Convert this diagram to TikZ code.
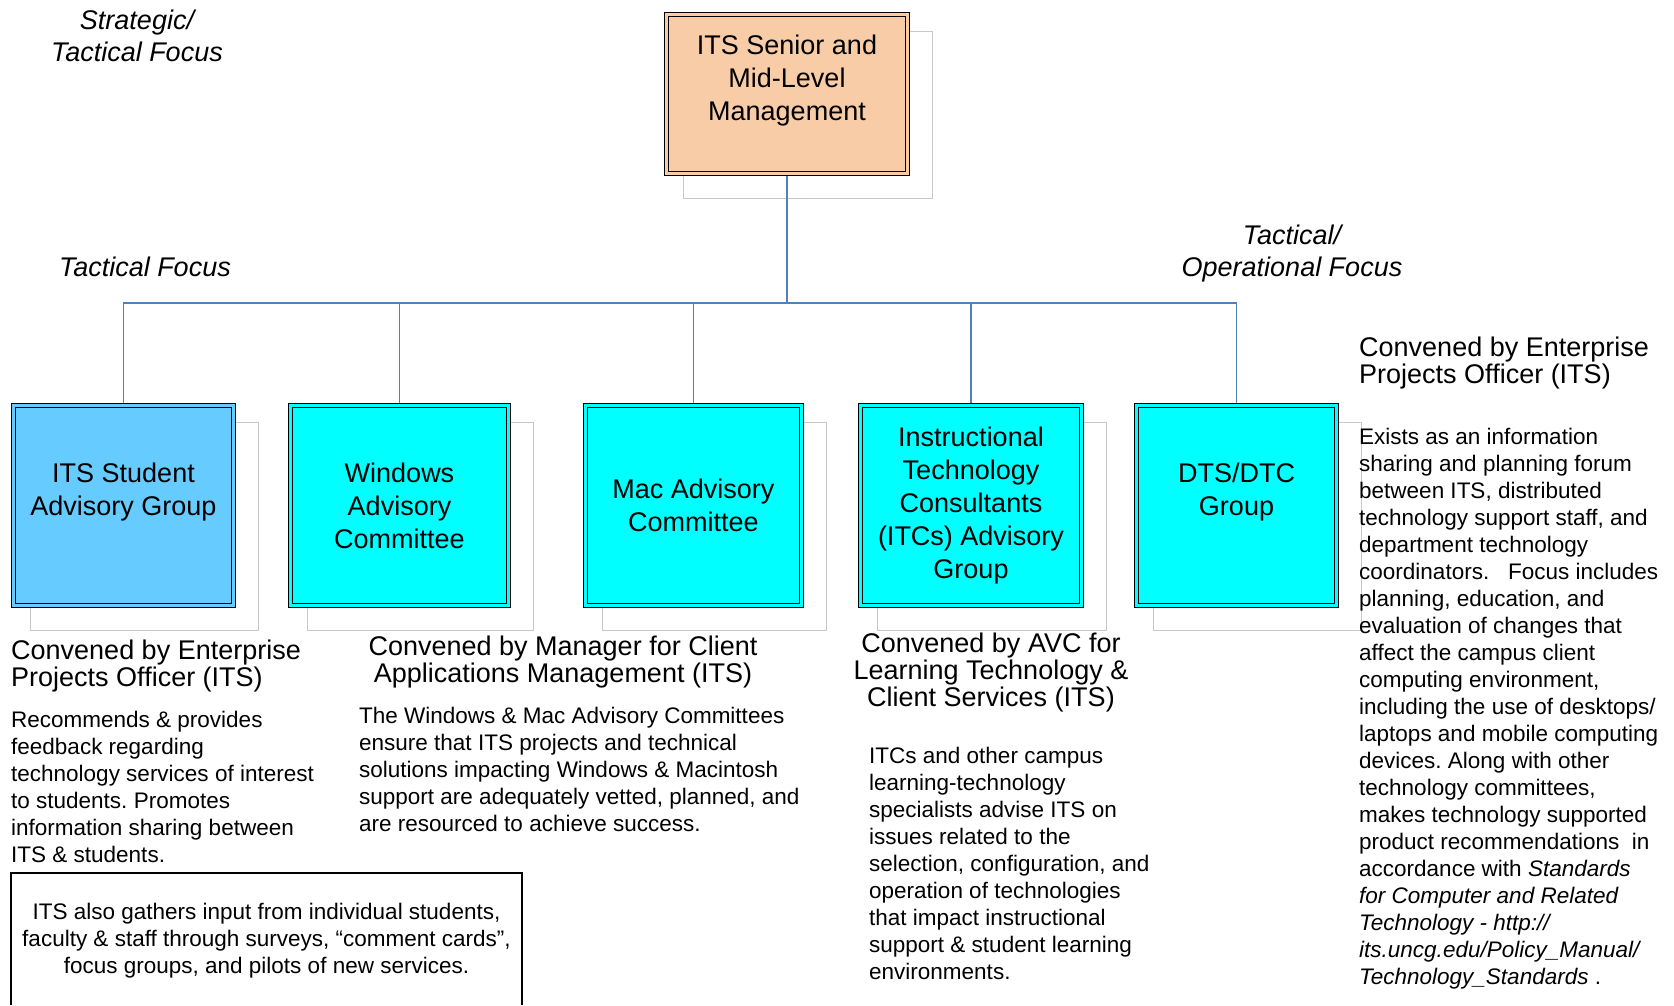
\documentclass[tikz,border=0pt]{standalone}
\usepackage{fontspec}
\setmainfont{Liberation Sans}
\usetikzlibrary{backgrounds}
\frenchspacing

\definecolor{peach}{RGB}{249,204,168}
\definecolor{skyblue}{RGB}{102,204,255}
\definecolor{aqua}{RGB}{0,255,255}
\definecolor{linkblue}{RGB}{79,129,189}
\definecolor{shadowgray}{RGB}{200,200,200}

\begin{document}
\begin{tikzpicture}[x=1pt, y=-1pt,
  box/.style={draw=black, line width=1.2pt, double distance=3pt, inner sep=0pt,
    align=center, font=\fontsize{27}{33}\selectfont},
  boxfill/.style={fill=#1, double=#1},
  link/.style={draw=linkblue, line width=1.6pt},
  shadowline/.style={draw=shadowgray, line width=1pt},
  frame/.style={draw=black, line width=1.2pt},
  head/.style={inner sep=0pt, font=\fontsize{27}{27}\selectfont},
  body/.style={inner sep=0pt, align=left, font=\fontsize{22.5}{27}\selectfont},
  focus/.style={inner sep=0pt, align=center, font=\fontsize{27}{32}\selectfont\itshape}]

\useasboundingbox (0,0) rectangle (1674,1005);

% Focus labels
\node[focus, anchor=north] (strat) at (137,10) {Strategic/\\Tactical Focus};
\node[focus] (tact) at (145,267) {Tactical Focus};
\node[focus, anchor=north] (oper) at (1292,225) {Tactical/\\Operational Focus};

% Management box
\node[box, boxfill=peach, minimum width=240.6pt, minimum height=158.6pt] (mgmt) at (787,94)
  {ITS Senior and\\Mid-Level\\Management\\\mbox{}};

% Advisory groups
\node[box, boxfill=skyblue, minimum width=219.6pt, minimum height=199.6pt] (student) at (123.5,505.5)
  {ITS Student\\Advisory Group\\\mbox{}};
\node[box, boxfill=aqua, minimum width=217.6pt, minimum height=199.6pt] (windows) at (399.5,505.5)
  {Windows\\Advisory\\Committee};
\node[box, boxfill=aqua, minimum width=215.6pt, minimum height=199.6pt] (mac) at (693.5,505.5)
  {Mac Advisory\\Committee};
\node[box, boxfill=aqua, minimum width=220.6pt, minimum height=199.6pt] (itc) at (971,505.5)
  {Instructional\\Technology\\Consultants\\(ITCs) Advisory\\Group};
\node[box, boxfill=aqua, minimum width=199.6pt, minimum height=199.6pt] (dts) at (1236.5,505.5)
  {DTS/DTC\\Group\\\mbox{}};

% Shadows and links
\begin{scope}[on background layer]
  \foreach \b in {mgmt,student,windows,mac,itc,dts}
    \draw[shadowline] ([shift={(17,17.5)}]\b.north west) rectangle ([shift={(24.5,24.5)}]\b.south east);
  \coordinate (bus) at (787,303);
  \draw[link] (mgmt.south) -- (bus);
  \foreach \b in {student,windows,mac,itc,dts}
    \draw[link] (bus) -| (\b.north);
\end{scope}

% Student group text
\node[head, anchor=north west, align=left] (stuconv) at (11,640)
  {Convened by Enterprise\\Projects Officer (ITS)};
\node[body, anchor=north west] (studesc) at (11,711)
  {Recommends \& provides\\feedback regarding\\technology services of interest\\to students. Promotes\\information sharing between\\ITS \& students.};

% Windows & Mac text
\node[head, anchor=north, align=center] (winconv) at (563,636)
  {Convened by Manager for Client\\Applications Management (ITS)};
\node[body, anchor=north west] (windesc) at (359,707)
  {The Windows \& Mac Advisory Committees\\ensure that ITS projects and technical\\solutions impacting Windows \& Macintosh\\support are adequately vetted, planned, and\\are resourced to achieve success.};

% ITC text
\node[head, anchor=north, align=center] (itcconv) at (991,633)
  {Convened by AVC for\\Learning Technology \&\\Client Services (ITS)};
\node[body, anchor=north west] (itcdesc) at (869,747)
  {ITCs and other campus\\learning-technology\\specialists advise ITS on\\issues related to the\\selection, configuration, and\\operation of technologies\\that impact instructional\\support \& student learning\\environments.};

% DTS/DTC text
\node[head, anchor=north west, align=left] (dtsconv) at (1359,337)
  {Convened by Enterprise\\Projects Officer (ITS)};
\node[body, anchor=north west] (dtsdesc) at (1359,427.5)
  {Exists as an information\\sharing and planning forum\\between ITS, distributed\\technology support staff, and\\department technology\\coordinators.\ \ \ Focus includes\\planning, education, and\\evaluation of changes that\\affect the campus client\\computing environment,\\including the use of desktops/\\laptops and mobile computing\\devices. Along with other\\technology committees,\\makes technology supported\\product recommendations\ \ in\\accordance with \textit{Standards}\\\textit{for Computer and Related}\\\textit{Technology - http://}\\\textit{its.uncg.edu/Policy\_Manual/}\\\textit{Technology\_Standards} .};

% Input box
\node[body, align=center, anchor=north] (gather) at (266.5,902.5)
  {ITS also gathers input from individual students,\\faculty \& staff through surveys, “comment cards”,\\focus groups, and pilots of new services.};
\draw[frame] (11,1005) |- (522,873) -- (522,1005);

\end{tikzpicture}
\end{document}
